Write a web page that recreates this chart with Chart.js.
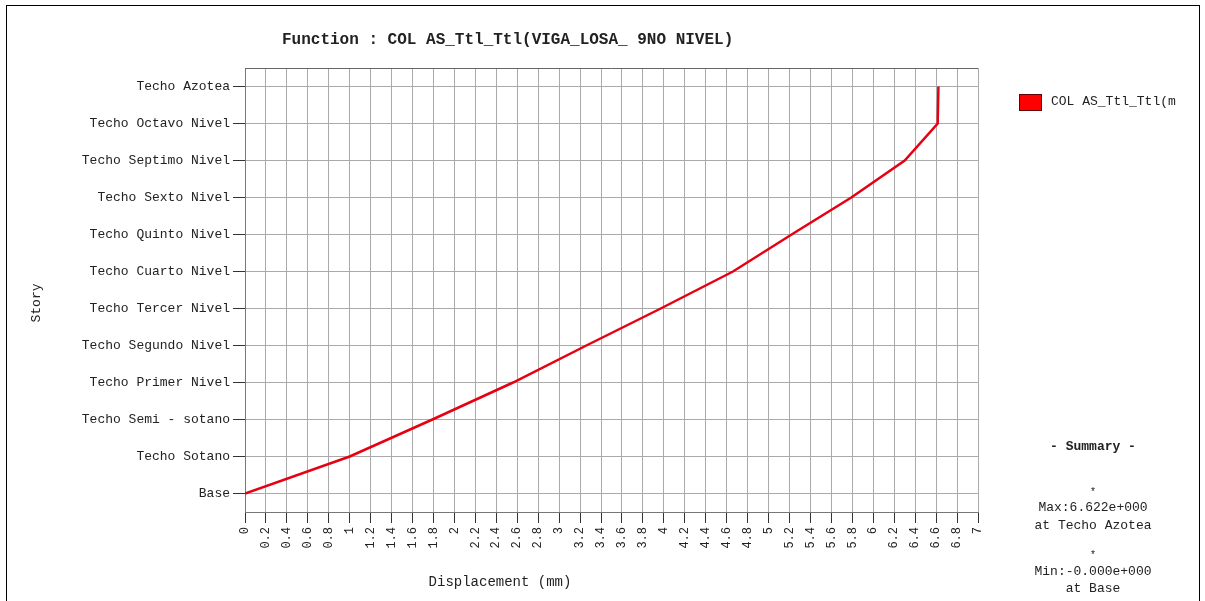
<!DOCTYPE html>
<html>
<head>
<meta charset="utf-8">
<script src="https://cdn.jsdelivr.net/npm/chart.js@4"></script>
<style>
  html, body { margin: 0; padding: 0; background: #fff; }
  #wrap { position: relative; width: 1205px; height: 601px; }
</style>
</head>
<body>
<div id="wrap"><canvas id="storyChart" width="1205" height="601"></canvas></div>
<script>
const stories = ['Base', 'Techo Sotano', 'Techo Semi - sotano', 'Techo Primer Nivel',
  'Techo Segundo Nivel', 'Techo Tercer Nivel', 'Techo Cuarto Nivel', 'Techo Quinto Nivel',
  'Techo Sexto Nivel', 'Techo Septimo Nivel', 'Techo Octavo Nivel', 'Techo Azotea'];
const displacement = [0, 1.0, 1.79, 2.56, 3.26, 3.97, 4.66, 5.22, 5.79, 6.30, 6.615, 6.622];
const seriesName = 'COL AS_Ttl_Ttl(m';
const chartTitle = 'Function : COL AS_Ttl_Ttl(VIGA_LOSA_ 9NO NIVEL)';
const summaryLines = ['- Summary -', '*', 'Max:6.622e+000', 'at Techo Azotea', '*', 'Min:-0.000e+000', 'at Base'];

const xTickValues = [];
for (let i = 0; i <= 35; i++) xTickValues.push(Math.round(i * 2) / 10);

const mono = "'Liberation Mono', 'DejaVu Sans Mono', monospace";
const ink = '#222';

const points = displacement.map((d, i) => ({ x: d, y: i }));

// extra texts, frame and legend box
const extras = {
  id: 'extras',
  beforeDraw(chart) {
    const ctx = chart.ctx;
    ctx.save();
    ctx.fillStyle = '#fff';
    ctx.fillRect(0, 0, chart.width, chart.height);
    ctx.strokeStyle = '#000';
    ctx.lineWidth = 1;
    ctx.strokeRect(6.5, 5.5, 1193, 600);
    ctx.restore();
  },
  afterDraw(chart) {
    const ctx = chart.ctx;
    const a = chart.chartArea;
    ctx.save();
    // plot top border
    ctx.strokeStyle = '#666';
    ctx.beginPath();
    ctx.moveTo(a.left, Math.round(a.top) + 0.5);
    ctx.lineTo(a.right, Math.round(a.top) + 0.5);
    ctx.stroke();

    ctx.fillStyle = ink;
    ctx.textBaseline = 'middle';
    ctx.textAlign = 'left';
    ctx.font = 'bold 16px ' + mono;
    ctx.fillText(chartTitle, 282, 40);

    ctx.font = '14px ' + mono;
    ctx.textAlign = 'center';
    ctx.fillText('Displacement (mm)', 500, 582);

    ctx.save();
    ctx.translate(37, 303);
    ctx.rotate(-Math.PI / 2);
    ctx.font = '13px ' + mono;
    ctx.fillText('Story', 0, 0);
    ctx.restore();

    // legend
    ctx.fillStyle = '#ff0000';
    ctx.fillRect(1019, 94, 22, 16);
    ctx.strokeStyle = '#600';
    ctx.strokeRect(1019.5, 94.5, 22, 16);
    ctx.fillStyle = ink;
    ctx.textAlign = 'left';
    ctx.font = '13px ' + mono;
    ctx.fillText(seriesName, 1051, 102);

    // summary
    const ys = [447, 492, 508, 526, 555, 572, 589];
    ctx.textAlign = 'center';
    summaryLines.forEach((t, i) => {
      ctx.font = (i === 0 ? 'bold ' : '') + (t === '*' ? '10px ' : '13px ') + mono;
      ctx.fillText(t, 1093, ys[i]);
    });
    ctx.restore();
  }
};

new Chart(document.getElementById('storyChart'), {
  type: 'scatter',
  data: {
    datasets: [{
      label: seriesName,
      data: points,
      showLine: true,
      borderColor: '#e60012',
      backgroundColor: '#ff0000',
      borderWidth: 2.5,
      pointRadius: 0,
      tension: 0
    }]
  },
  options: {
    responsive: false,
    animation: false,
    layout: { padding: { left: 0, top: 68, right: 227, bottom: 0 } },
    plugins: {
      legend: { display: false },
      title: { display: false },
      tooltip: { enabled: false }
    },
    scales: {
      x: {
        type: 'linear',
        min: 0,
        max: 7,
        afterBuildTicks: s => { s.ticks = xTickValues.map(v => ({ value: v })); },
        afterFit: s => { s.height = 89; },
        grid: { color: '#aaa', tickColor: '#333', tickLength: 11, lineWidth: 1 },
        border: { color: '#777' },
        ticks: {
          autoSkip: false,
          minRotation: 90,
          maxRotation: 90,
          padding: 4,
          color: ink,
          font: { family: mono, size: 12 },
          callback: v => String(parseFloat(Number(v).toFixed(1)))
        }
      },
      y: {
        type: 'linear',
        min: -0.5,
        max: 11.5,
        afterBuildTicks: s => { s.ticks = stories.map((n, i) => ({ value: i })); },
        afterFit: s => { s.width = 245; },
        grid: { color: '#aaa', tickColor: '#333', tickLength: 12, lineWidth: 1 },
        border: { color: '#777' },
        ticks: {
          autoSkip: false,
          padding: 3,
          color: ink,
          font: { family: mono, size: 13 },
          callback: v => stories[v]
        }
      }
    }
  },
  plugins: [extras]
});
</script>
</body>
</html>
